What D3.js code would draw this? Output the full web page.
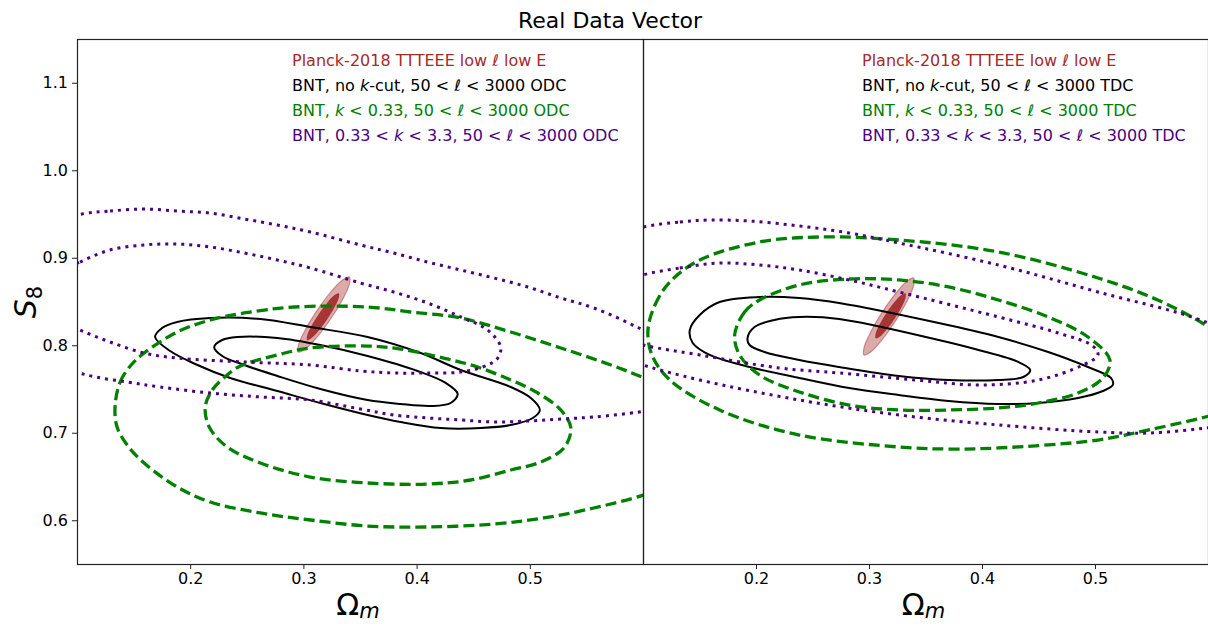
<!DOCTYPE html>
<html><head><meta charset="utf-8">
<script src="https://cdn.jsdelivr.net/npm/d3@7"></script>
<style>body{margin:0;background:#fff}svg{display:block;font-family:"DejaVu Sans",sans-serif}</style>
</head><body><svg id="c" width="1208" height="626"></svg>
<script>
// ---------- DATA ----------
const xTicks = [0.2, 0.3, 0.4, 0.5];
const yTicks = [0.6, 0.7, 0.8, 0.9, 1.0, 1.1];
const xDomain = [0.1, 0.6];
const yDomain = [0.55, 1.15];

// Left panel (ODC)
const leftPlanckOuter = [[0.3407,0.878],[0.3406,0.8696],[0.3345,0.8521],[0.324,0.83],[0.312,0.8092],[0.3015,0.7954],[0.2956,0.7922],[0.2957,0.8006],[0.3018,0.8181],[0.3123,0.8402],[0.3243,0.861],[0.3348,0.8748]];
const leftPlanckInner = [[0.3313,0.8593],[0.3312,0.8541],[0.3274,0.8432],[0.3209,0.8294],[0.3135,0.8165],[0.307,0.8079],[0.3033,0.8059],[0.3033,0.8111],[0.3071,0.822],[0.3136,0.8358],[0.3211,0.8487],[0.3275,0.8573]];
const leftBlackInner = [[0.2212,0.798],[0.2283,0.806],[0.2416,0.8094],[0.277,0.8083],[0.315,0.8003],[0.3567,0.7877],[0.4009,0.7706],[0.4257,0.7569],[0.4363,0.7443],[0.4301,0.734],[0.4124,0.7306],[0.3858,0.7329],[0.3567,0.7374],[0.315,0.75],[0.277,0.7649],[0.2478,0.7774],[0.2283,0.7877]];
const leftBlackOuter = [[0.169,0.8094],[0.1752,0.8197],[0.1885,0.8266],[0.2177,0.8311],[0.262,0.83],[0.3062,0.8208],[0.3567,0.8094],[0.4036,0.7911],[0.439,0.7717],[0.4832,0.7523],[0.5009,0.7397],[0.5089,0.726],[0.5027,0.7169],[0.4832,0.7089],[0.4567,0.7054],[0.4213,0.7054],[0.3858,0.7123],[0.3567,0.7203],[0.315,0.734],[0.277,0.7477],[0.2354,0.7626],[0.2044,0.7786],[0.1823,0.7934]];
const leftGreenInner = [[0.2133,0.7294],[0.2195,0.7489],[0.2327,0.766],[0.2443,0.7763],[0.277,0.7889],[0.3062,0.7969],[0.3567,0.7991],[0.3858,0.7957],[0.4239,0.7854],[0.454,0.7751],[0.4832,0.7603],[0.5071,0.7454],[0.5274,0.726],[0.5363,0.7054],[0.5301,0.6826],[0.5098,0.6666],[0.4832,0.6574],[0.4478,0.646],[0.4098,0.6414],[0.3567,0.6426],[0.3062,0.6494],[0.262,0.6654],[0.2327,0.6837],[0.2168,0.7066]];
const leftGreenOuter = [[0.1336,0.7294],[0.1381,0.758],[0.1478,0.7774],[0.1593,0.7911],[0.1885,0.8151],[0.2177,0.8289],[0.2478,0.8369],[0.292,0.8437],[0.3567,0.8437],[0.3947,0.838],[0.439,0.8311],[0.4832,0.8151],[0.5274,0.7969],[0.5717,0.7774],[0.6009,0.7626],[0.6425,0.7374],[0.6646,0.6917],[0.6425,0.6483],[0.6009,0.6289],[0.5566,0.614],[0.5124,0.6026],[0.4681,0.5957],[0.4097,0.5923],[0.3567,0.5934],[0.3062,0.6003],[0.262,0.6083],[0.2177,0.6209],[0.1885,0.638],[0.1593,0.6654],[0.1443,0.686],[0.1354,0.7066]];
const leftPurpleInner = [[0.0805,0.8803],[0.1027,0.8951],[0.1292,0.9089],[0.1593,0.9146],[0.1885,0.9157],[0.2177,0.9123],[0.2478,0.9054],[0.277,0.8974],[0.3062,0.8883],[0.3504,0.8711],[0.3797,0.8609],[0.4097,0.8483],[0.439,0.8323],[0.4628,0.8174],[0.4743,0.798],[0.4717,0.7854],[0.4628,0.7774],[0.439,0.7694],[0.4097,0.7683],[0.3797,0.7683],[0.3504,0.7706],[0.3062,0.7774],[0.2478,0.7809],[0.1885,0.7854],[0.1593,0.7911],[0.1292,0.8037],[0.1027,0.8174],[0.0805,0.8311],[0.0717,0.8563]];
const leftPurpleOuter = [[0.1044,0.95],[0.1292,0.9534],[0.1593,0.9557],[0.1885,0.9534],[0.2177,0.9511],[0.2478,0.9443],[0.277,0.9374],[0.3062,0.9294],[0.3504,0.9146],[0.3797,0.9054],[0.4097,0.8951],[0.439,0.886],[0.4681,0.8769],[0.4982,0.8666],[0.5274,0.854],[0.5566,0.8426],[0.5965,0.8197],[0.6336,0.7946],[0.6513,0.766],[0.6425,0.7397],[0.6159,0.7283],[0.5965,0.7237],[0.5566,0.718],[0.5274,0.7157],[0.4982,0.7134],[0.4681,0.7123],[0.439,0.7146],[0.4097,0.7169],[0.3797,0.7203],[0.3504,0.7271],[0.3062,0.7374],[0.262,0.7409],[0.2177,0.7454],[0.1735,0.7523],[0.1443,0.758],[0.1088,0.766],[0.0717,0.7831],[0.054,0.8631],[0.0717,0.9374]];

// Right panel (TDC)
const rightPlanckOuter = [[0.3396,0.8769],[0.3396,0.8685],[0.3337,0.8505],[0.3235,0.8278],[0.3117,0.8065],[0.3015,0.7922],[0.2956,0.7888],[0.2956,0.7972],[0.3015,0.8151],[0.3117,0.8378],[0.3235,0.8591],[0.3337,0.8734]];
const rightPlanckInner = [[0.3323,0.8593],[0.3324,0.8543],[0.3289,0.8437],[0.3228,0.8304],[0.3157,0.818],[0.3095,0.8097],[0.3059,0.8079],[0.3058,0.8129],[0.3093,0.8236],[0.3154,0.8368],[0.3225,0.8493],[0.3287,0.8575]];
const rightBlackInner = [[0.1925,0.8083],[0.1987,0.8209],[0.2163,0.8289],[0.2383,0.8323],[0.2736,0.83],[0.3617,0.806],[0.3969,0.7946],[0.4321,0.7809],[0.4427,0.7717],[0.4365,0.7637],[0.4145,0.7603],[0.3705,0.7603],[0.3264,0.7649],[0.2736,0.7751],[0.2383,0.7831],[0.2075,0.7923],[0.1943,0.8003]];
const rightBlackOuter = [[0.1414,0.8174],[0.1502,0.8346],[0.1678,0.8494],[0.2031,0.8551],[0.2383,0.854],[0.2736,0.8483],[0.3617,0.8254],[0.4145,0.8094],[0.4586,0.7923],[0.4938,0.7751],[0.5141,0.7626],[0.5158,0.7546],[0.507,0.7477],[0.485,0.7397],[0.4498,0.734],[0.4145,0.7329],[0.3705,0.7363],[0.3264,0.7431],[0.2824,0.7511],[0.2383,0.7626],[0.1943,0.7751],[0.159,0.7889],[0.144,0.8026]];
const rightGreenInner = [[0.1811,0.8117],[0.1899,0.838],[0.2031,0.8517],[0.2383,0.8689],[0.2824,0.8757],[0.3264,0.8746],[0.3705,0.8666],[0.4145,0.8517],[0.4586,0.8323],[0.4938,0.8094],[0.5132,0.7831],[0.507,0.7626],[0.485,0.7454],[0.4498,0.734],[0.4145,0.7283],[0.3705,0.726],[0.3264,0.726],[0.2824,0.7317],[0.2383,0.7466],[0.2031,0.766],[0.1855,0.7889]];
const rightGreenOuter = [[0.1044,0.8174],[0.1106,0.846],[0.1238,0.8723],[0.1502,0.8974],[0.2031,0.918],[0.2559,0.9237],[0.3264,0.9203],[0.4145,0.9066],[0.5026,0.8769],[0.5555,0.8517],[0.5978,0.8231],[0.6348,0.7889],[0.648,0.7546],[0.6348,0.7317],[0.5978,0.718],[0.5467,0.7031],[0.5026,0.6917],[0.4145,0.6826],[0.3705,0.6814],[0.3264,0.6837],[0.2383,0.6974],[0.1678,0.726],[0.1238,0.7603],[0.1079,0.7889]];
const rightPurpleInner = [[0.1,0.8803],[0.1326,0.8883],[0.1678,0.894],[0.2031,0.8917],[0.2383,0.886],[0.2824,0.8746],[0.3264,0.8609],[0.4145,0.8323],[0.4674,0.814],[0.4982,0.7991],[0.5026,0.7889],[0.4894,0.7774],[0.4498,0.7603],[0.3969,0.7546],[0.3414,0.7603],[0.2736,0.7683],[0.2207,0.774],[0.1502,0.7889],[0.1,0.8003],[0.0709,0.8117],[0.0604,0.8403],[0.0709,0.8654]];
const rightPurpleOuter = [[0.1,0.9351],[0.1326,0.9409],[0.159,0.9431],[0.1943,0.942],[0.2383,0.9363],[0.2824,0.9283],[0.3264,0.9169],[0.4145,0.8917],[0.5026,0.8609],[0.5978,0.8266],[0.6436,0.7946],[0.6612,0.7491],[0.6436,0.7146],[0.5978,0.7054],[0.5467,0.6997],[0.5026,0.7009],[0.4145,0.7089],[0.3264,0.7203],[0.2383,0.7374],[0.1502,0.7603],[0.1,0.7774],[0.0621,0.7946],[0.0445,0.8517],[0.0621,0.9203]];

// legend labels: [text, italic]
const leftLegend = [
  [["Planck-2018 TTTEEE low ",0],["ℓ",1],[" low E",0]],
  [["BNT, no ",0],["k",1],["-cut, 50 < ",0],["ℓ",1],[" < 3000 ODC",0]],
  [["BNT, ",0],["k",1],[" < 0.33, 50 < ",0],["ℓ",1],[" < 3000 ODC",0]],
  [["BNT, 0.33 < ",0],["k",1],[" < 3.3, 50 < ",0],["ℓ",1],[" < 3000 ODC",0]]
];
const rightLegend = [
  [["Planck-2018 TTTEEE low ",0],["ℓ",1],[" low E",0]],
  [["BNT, no ",0],["k",1],["-cut, 50 < ",0],["ℓ",1],[" < 3000 TDC",0]],
  [["BNT, ",0],["k",1],[" < 0.33, 50 < ",0],["ℓ",1],[" < 3000 TDC",0]],
  [["BNT, 0.33 < ",0],["k",1],[" < 3.3, 50 < ",0],["ℓ",1],[" < 3000 TDC",0]]
];
const legendColors = ["#a52a2a", "#000000", "#008000", "#4b0082"];

// ---------- DRAW ----------
const svg = d3.select("#c");
const plotTop = 39, plotBottom = 564;
const y = d3.scaleLinear().domain(yDomain).range([plotBottom, plotTop]);

svg.append("text").attr("x", 610).attr("y", 28).attr("text-anchor","middle")
  .attr("font-size", 22).attr("fill","#000").text("Real Data Vector");

const panels = [
  {x0:77, x1:643, id:"L", planckO:leftPlanckOuter, planckI:leftPlanckInner, bi:leftBlackInner, bo:leftBlackOuter, gi:leftGreenInner, go:leftGreenOuter, pi:leftPurpleInner, po:leftPurpleOuter, legend:leftLegend, lx:292, yaxis:true},
  {x0:643, x1:1208, id:"R", planckO:rightPlanckOuter, planckI:rightPlanckInner, bi:rightBlackInner, bo:rightBlackOuter, gi:rightGreenInner, go:rightGreenOuter, pi:rightPurpleInner, po:rightPurpleOuter, legend:rightLegend, lx:862, yaxis:false}
];

const defs = svg.append("defs");

panels.forEach(p => {
  const x = d3.scaleLinear().domain(xDomain).range([p.x0, p.x1]);
  defs.append("clipPath").attr("id","clip"+p.id).append("rect")
    .attr("x", p.x0).attr("y", plotTop).attr("width", p.x1-p.x0).attr("height", plotBottom-plotTop);
  const g = svg.append("g").attr("clip-path","url(#clip"+p.id+")");
  const line = d3.line().x(d=>x(d[0])).y(d=>y(d[1])).curve(d3.curveCatmullRomClosed.alpha(0.5));

  g.append("path").attr("d", line(p.planckO)).attr("fill","rgba(165,42,42,0.4)").attr("stroke","rgba(165,42,42,0.45)").attr("stroke-width",1.2);
  g.append("path").attr("d", line(p.planckI)).attr("fill","rgba(160,40,40,0.9)").attr("stroke","none");

  [p.bi, p.bo].forEach(c => g.append("path").attr("d", line(c)).attr("fill","none").attr("stroke","#000").attr("stroke-width",2));
  [p.gi, p.go].forEach(c => g.append("path").attr("d", line(c)).attr("fill","none").attr("stroke","#008000").attr("stroke-width",3.3).attr("stroke-dasharray","11,5"));
  [p.pi, p.po].forEach(c => g.append("path").attr("d", line(c)).attr("fill","none").attr("stroke","#4b0082").attr("stroke-width",3).attr("stroke-dasharray","3,5"));

  // x axis
  const xa = svg.append("g").attr("transform",`translate(0,${plotBottom})`)
    .call(d3.axisBottom(x).tickValues(xTicks).tickFormat(d3.format(".1f")).tickSize(5).tickPadding(4));
  xa.select(".domain").remove();
  xa.selectAll("text").attr("font-size",16).attr("font-family","DejaVu Sans").attr("fill","#000");
  xa.selectAll("line").attr("stroke","#222");

  if (p.yaxis) {
    const ya = svg.append("g").attr("transform",`translate(${p.x0},0)`)
      .call(d3.axisLeft(y).tickValues(yTicks).tickFormat(d3.format(".1f")).tickSize(5).tickPadding(4));
    ya.select(".domain").remove();
    ya.selectAll("text").attr("font-size",16).attr("font-family","DejaVu Sans").attr("fill","#000");
    ya.selectAll("line").attr("stroke","#222");
  }

  // spines
  svg.append("rect").attr("x", p.x0+0.5).attr("y", plotTop+0.5).attr("width", p.x1-p.x0).attr("height", plotBottom-plotTop)
    .attr("fill","none").attr("stroke","#222").attr("stroke-width",1.2);

  // legend
  p.legend.forEach((row,i) => {
    const t = svg.append("text").attr("x", p.lx).attr("y", 66 + i*25).attr("font-size",16).attr("fill", legendColors[i]);
    row.forEach(s => t.append("tspan").attr("font-style", s[1] ? "italic" : "normal").text(s[0]));
  });

  // x label
  const xl = svg.append("text").attr("x", (p.x0+p.x1)/2 - 2).attr("y", 615).attr("text-anchor","middle").attr("font-size",30).attr("fill","#000");
  xl.append("tspan").text("Ω");
  xl.append("tspan").attr("font-style","italic").attr("font-size",21).attr("dy",3).text("m");
});

// y label
const yl = svg.append("text").attr("transform","translate(36,302) rotate(-90)").attr("text-anchor","middle").attr("font-size",30).attr("fill","#000");
yl.append("tspan").attr("font-style","italic").text("S");
yl.append("tspan").attr("font-size",21).attr("dy",6).text("8");
</script></body></html>
